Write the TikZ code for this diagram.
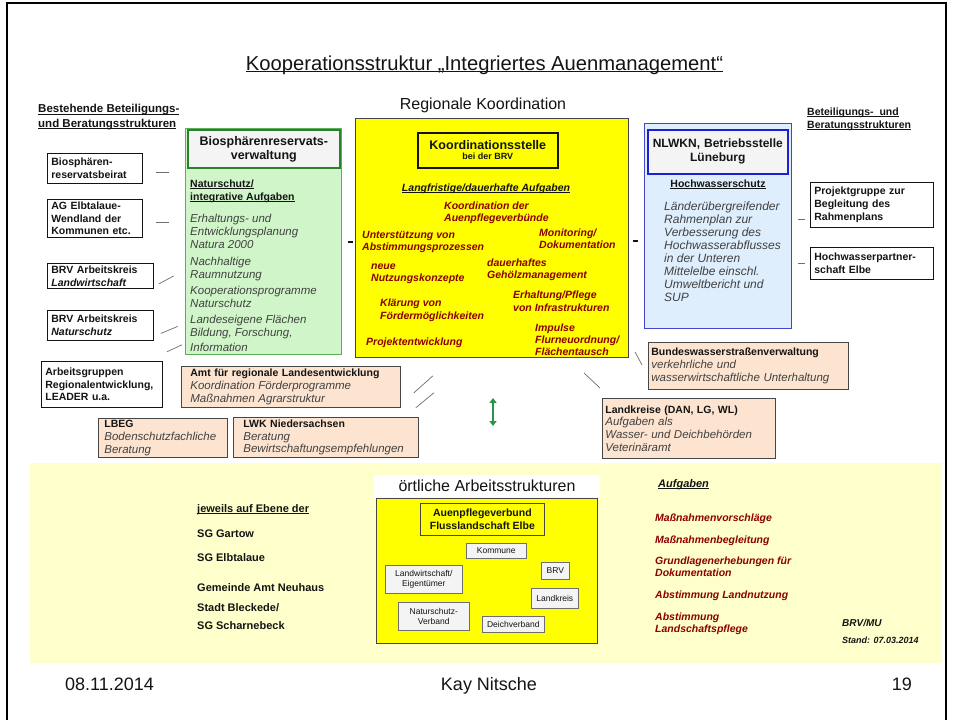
\documentclass[tikz,border=0pt]{standalone}
\usepackage{fontspec}
\setmainfont{Liberation Sans}
\usetikzlibrary{arrows.meta,calc}
\definecolor{gfill}{RGB}{208,245,200}
\definecolor{gdark}{RGB}{40,130,40}
\definecolor{gborder}{RGB}{90,175,90}
\definecolor{yfill}{RGB}{255,255,0}
\definecolor{bfill}{RGB}{222,238,252}
\definecolor{bborder}{RGB}{70,70,200}
\definecolor{bdark}{RGB}{30,30,210}
\definecolor{pfill}{RGB}{252,228,208}
\definecolor{pale}{RGB}{255,255,204}
\definecolor{txtred}{RGB}{140,0,0}
\definecolor{txtgray}{RGB}{65,65,65}
\definecolor{txtblk}{RGB}{20,20,20}
\definecolor{sfill}{RGB}{244,244,244}
\definecolor{lgray}{RGB}{110,110,110}
\definecolor{bdgray}{RGB}{70,70,70}
\definecolor{arrowgreen}{RGB}{40,150,70}
\newcommand\fB{\fontsize{10.5}{12.7}\selectfont\bfseries}
\newcommand\fIt{\fontsize{11.5}{12.8}\selectfont\mdseries\itshape}
\newcommand\fItB{\fontsize{12}{13}\selectfont\mdseries\itshape}
\newcommand\fRd{\fontsize{10.5}{12}\selectfont\bfseries\itshape}
\newcommand\fSm{\fontsize{8.5}{10}\selectfont}
\newcommand\uln[2][0.7pt]{\setbox0\hbox{#2}\leavevmode\rlap{\rule[-1.8pt]{\wd0}{#1}}\box0}
\newcommand\gi[1]{{\color{txtgray}\fIt #1}}
\begin{document}
\begin{tikzpicture}[x=1pt,y=-1pt,
  txt/.style={inner sep=0pt, anchor=base west, align=left},
  wbox/.style={draw=txtblk, fill=white, line width=0.8pt, anchor=north west, inner xsep=4pt, inner ysep=0pt, align=left, font=\fB, text=txtblk},
  pbox/.style={draw=bdgray, fill=pfill, line width=0.8pt, anchor=north west, inner xsep=5pt, inner ysep=0pt, align=left, font=\fB, text=txtblk},
  sbox/.style={draw=lgray, fill=sfill, line width=0.6pt, anchor=north west, inner sep=0pt, align=center, font=\fSm, text=txtblk},
  red/.style={txt, font=\fRd, text=txtred},
  gray/.style={txt, font=\fIt, text=txtgray},
  blk/.style={txt, font=\fB, text=txtblk},
  link/.style={draw=lgray, line width=0.7pt},
  bar/.style={draw=txtblk, line width=2pt}
]
\useasboundingbox (0,0) rectangle (953,720);
\fill[white] (0,0) rectangle (953,720);
\draw[line width=1.6pt] (7,722) -- (7,3) -- (946,3) -- (946,722);

% title (multi-line text nodes are placed by the baseline of their LAST line)
\node[inner sep=0pt, anchor=base, font=\fontsize{20.2}{22}\selectfont, text=txtblk] (title) at (484.5,70) {\uln[1.1pt]{Kooperationsstruktur „Integriertes Auenmanagement“}};
\node[inner sep=0pt, anchor=base, font=\fontsize{16}{18}\selectfont, text=txtblk] (rk) at (483,109) {Regionale Koordination};

% headings
\node[blk, font=\fontsize{11.5}{14.5}\selectfont\bfseries] (lhead) at (38,127) {\uln{Bestehende Beteiligungs-}\\\uln{und Beratungsstrukturen}};
\node[blk, font=\fontsize{10.5}{13}\selectfont\bfseries] (rhead) at (807,128) {\uln{Beteiligungs-\ \ und}\\\uln{Beratungsstrukturen}};

% left boxes
\node[wbox, text width=87, minimum height=30] (b1) at (47,153) {Biosphären-\\reservatsbeirat};
\node[wbox, text width=87, minimum height=38] (b2) at (47,199) {AG Elbtalaue-\\Wendland der\\Kommunen etc.};
\node[wbox, text width=98, minimum height=25] (b3) at (47,263) {BRV Arbeitskreis\\{\itshape Landwirtschaft}};
\node[wbox, text width=98, minimum height=30] (b4) at (47,310) {BRV Arbeitskreis\\{\itshape Naturschutz}};
\node[wbox, text width=113, minimum height=46] (b5) at (41,361) {Arbeitsgruppen\\Regionalentwicklung,\\LEADER u.a.};

% green column
\node[draw=gborder, fill=gfill, line width=0.8pt, minimum width=156, minimum height=226, anchor=north west, inner sep=0pt] (green) at (185,128) {};
\node[draw=gdark, fill=sfill, line width=1.6pt, minimum width=152, minimum height=38, text width=146, align=center, anchor=north west, inner sep=0pt, font=\fontsize{12.5}{14}\selectfont\bfseries, text=txtblk] (ghead) at (187,129) {Biosphärenreservats-\\verwaltung};
\node[blk] (gt0) at (190,200) {\uln{Naturschutz/}\\\uln{integrative Aufgaben}};
\node[gray] (gt1) at (190,248) {Erhaltungs- und\\Entwicklungsplanung\\Natura 2000};
\node[gray] (gt2) at (190,278) {Nachhaltige\\Raumnutzung};
\node[gray] (gt3) at (190,307) {Kooperationsprogramme\\Naturschutz};
\node[gray] (gt4) at (190,323) {Landeseigene Flächen};
\node[gray, font=\fontsize{11.5}{14.5}\selectfont\itshape] (gt5) at (190,351) {Bildung, Forschung,\\Information};

% yellow centre
\node[draw=bdgray, fill=yfill, line width=0.8pt, minimum width=273, minimum height=239, anchor=north west, inner sep=0pt] (yel) at (355,118) {};
\node[draw=txtblk, fill=yfill, line width=1.6pt, minimum width=140, minimum height=35, anchor=north west, align=center, inner sep=0pt, text=txtblk] (ks) at (417,132) {{\fontsize{12.5}{14}\selectfont\bfseries Koordinationsstelle}\\[-2pt]{\fontsize{9}{10}\selectfont\bfseries bei der BRV}};
\node[inner sep=0pt, anchor=base, font=\fRd, text=txtblk] (lang) at (486,191) {\uln{Langfristige/dauerhafte Aufgaben}};
\node[red] (r1) at (444,221) {Koordination der\\Auenpflegeverbünde};
\node[red] (r2) at (362,250) {Unterstützung von\\Abstimmungsprozessen};
\node[red] (r3) at (539,248) {Monitoring/\\Dokumentation};
\node[red] (r4) at (371,281) {neue\\Nutzungskonzepte};
\node[red] (r5) at (487,278) {dauerhaftes\\Gehölzmanagement};
\node[red, font=\fontsize{10.5}{13}\selectfont\bfseries\itshape] (r6) at (380,319) {Klärung von\\Fördermöglichkeiten};
\node[red, font=\fontsize{10.5}{13}\selectfont\bfseries\itshape] (r7) at (513,311) {Erhaltung/Pflege\\von Infrastrukturen};
\node[red] (r8) at (366,345) {Projektentwicklung};
\node[red] (r9) at (535,355) {Impulse\\Flurneuordnung/\\Flächentausch};

% blue column
\node[draw=bborder, fill=bfill, line width=0.8pt, minimum width=147, minimum height=205, anchor=north west, inner sep=0pt] (blue) at (644,123) {};
\node[draw=bdark, fill=sfill, line width=1.6pt, minimum width=140, minimum height=44, text width=136, align=center, anchor=north west, inner sep=0pt, font=\fontsize{12}{14}\selectfont\bfseries, text=txtblk] (bhead) at (647,129) {NLWKN, Betriebsstelle\\Lüneburg};
\node[inner sep=0pt, anchor=base, font=\fB, text=txtblk] (hws) at (718,187) {\uln{Hochwasserschutz}};
\node[gray, font=\fItB] (bt) at (664,301) {Länderübergreifender\\Rahmenplan zur\\Verbesserung des\\Hochwasserabflusses\\in der Unteren\\Mittelelbe einschl.\\Umweltbericht und\\SUP};

% right boxes
\node[wbox, text width=115, minimum height=45] (rb1) at (810,182) {Projektgruppe zur\\Begleitung des\\Rahmenplans};
\node[wbox, text width=115, minimum height=32] (rb2) at (810,247) {Hochwasserpartner-\\schaft Elbe};

% orange boxes
\node[pbox, inner xsep=9pt, text width=201, minimum height=41] (amt) at (181,366) {Amt für regionale Landesentwicklung\\\gi{Koordination Förderprogramme}\\\gi{Maßnahmen Agrarstruktur}};
\node[pbox, inner xsep=6pt, text width=117, minimum height=39] (lbeg) at (98,418) {LBEG\\\gi{Bodenschutzfachliche}\\\gi{Beratung}};
\node[pbox, inner xsep=10pt, text width=165, minimum height=40] (lwk) at (233,417) {LWK Niedersachsen\\\gi{Beratung}\\\gi{Bewirtschaftungsempfehlungen}};
\node[pbox, inner xsep=3pt, text width=194, minimum height=47] (bws) at (648,342) {Bundeswasserstraßenverwaltung\\\gi{verkehrliche und}\\\gi{wasserwirtschaftliche Unterhaltung}};
\node[pbox, inner xsep=3pt, text width=167, minimum height=60] (lkr) at (602,398) {Landkreise (DAN, LG, WL)\\\gi{Aufgaben als}\\\gi{Wasser- und Deichbehörden}\\\gi{Veterinäramt}};

% connectors (short strokes)
\draw[link] ($(b1.east)+(13,4)$) -- ++(13,0);
\draw[link] ($(b2.east)+(13,4)$) -- ++(13,0);
\draw[link] ($(b3.east)+(5,8)$) -- ++(15,-8);
\draw[link] ($(b4.east)+(7,8)$) -- ++(17,-7);
\draw[link] ($(green.south west)+(-18,-3)$) -- ++(15,-7);
\draw[bar] ($(green.east)+(6,1)$) -- ++(5,0);
\draw[bar] ($(yel.east)+(4,3)$) -- ++(5,0);
\draw[link] ($(rb1.west)+(-12,14)$) -- ++(7,0);
\draw[link] ($(rb2.west)+(-12,0)$) -- ++(7,0);
\draw[link] ($(amt.east)+(13,6)$) -- ++(19,-17);
\draw[link] ($(amt.south east)+(15,0)$) -- ++(18,-15);
\draw[link] ($(bws.west)+(-13,-14)$) -- ++(7,13);
\draw[link] ($(lkr.north west)+(-18,-25)$) -- ++(16,15);
\coordinate (arA) at (493,398);
\coordinate (arB) at (493,426);
\draw[arrowgreen, line width=1.8pt, {Triangle[length=5pt,width=7pt]}-{Triangle[length=5pt,width=7pt]}] (arA) -- (arB);

% bottom area
\fill[pale] (30,463) rectangle (942,663);
\fill[white] (374,475) rectangle (600,497);
\node[inner sep=0pt, anchor=base, font=\fontsize{16}{18}\selectfont, text=txtblk] (oa) at (487,491) {örtliche Arbeitsstrukturen};
\node[draw=bdgray, fill=yfill, line width=0.8pt, minimum width=221, minimum height=145, anchor=north west, inner sep=0pt] (ybot) at (376,498) {};
\node[draw=bdgray, fill=yfill, line width=0.8pt, minimum width=124, minimum height=32, anchor=north west, align=center, inner sep=0pt, font=\fB, text=txtblk] (apv) at (420,503) {Auenpflegeverbund\\Flusslandschaft Elbe};
\node[sbox, minimum width=60, minimum height=15] (kom) at (466,543) {Kommune};
\node[sbox, minimum width=28, minimum height=17] (brv) at (541,562) {BRV};
\node[sbox, minimum width=77, minimum height=28] (lw) at (385,565) {Landwirtschaft/\\Eigentümer};
\node[sbox, minimum width=47, minimum height=20] (lk) at (531,588) {Landkreis};
\node[sbox, minimum width=71, minimum height=28] (ns) at (398,602) {Naturschutz-\\Verband};
\node[sbox, minimum width=62, minimum height=16] (dv) at (482,616) {Deichverband};

\node[blk, font=\fontsize{11}{13}\selectfont\bfseries] (jw) at (197,512) {\uln{jeweils auf Ebene der}};
\node[blk, font=\fontsize{11}{13}\selectfont\bfseries] (sg1) at (197,537) {SG Gartow};
\node[blk, font=\fontsize{11}{13}\selectfont\bfseries] (sg2) at (197,561) {SG Elbtalaue};
\node[blk, font=\fontsize{11}{13}\selectfont\bfseries] (gan) at (197,591) {Gemeinde Amt Neuhaus};
\node[blk, font=\fontsize{11}{18}\selectfont\bfseries] (sb) at (197,629) {Stadt Bleckede/\\SG Scharnebeck};

\node[txt, font=\fontsize{11}{13}\selectfont\bfseries\itshape, text=txtblk] (auf) at (658,487) {\uln{Aufgaben}};
\node[red] (a1) at (655,521) {Maßnahmenvorschläge};
\node[red] (a2) at (655,543) {Maßnahmenbegleitung};
\node[red] (a3) at (655,576) {Grundlagenerhebungen für\\Dokumentation};
\node[red] (a4) at (655,598) {Abstimmung Landnutzung};
\node[red] (a5) at (655,632) {Abstimmung\\Landschaftspflege};
\node[txt, font=\fontsize{10}{12}\selectfont\bfseries\itshape, text=txtblk] (brvmu) at (842,626) {BRV/MU};
\node[txt, font=\fontsize{9}{11}\selectfont\bfseries\itshape, text=txtblk] (stand) at (842,643) {Stand: 07.03.2014};

% footer
\node[txt, font=\fontsize{18}{20}\selectfont, text=txtblk] (date) at (65,690) {08.11.2014};
\node[inner sep=0pt, anchor=base, font=\fontsize{18}{20}\selectfont, text=txtblk] (auth) at (489,690) {Kay Nitsche};
\node[inner sep=0pt, anchor=base east, font=\fontsize{18}{20}\selectfont, text=txtblk] (pg) at (912,690) {19};
\end{tikzpicture}
\end{document}
